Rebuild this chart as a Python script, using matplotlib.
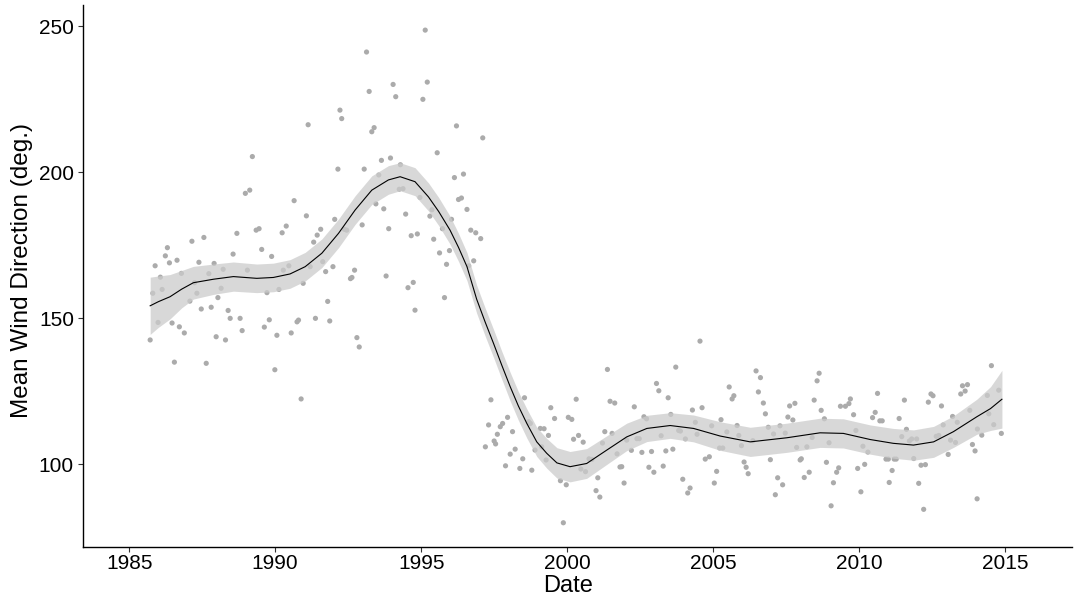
import numpy as np
import matplotlib
matplotlib.use("Agg")
import matplotlib.pyplot as plt

# ---- scatter data: (decimal year, mean wind direction in degrees) ----
point_year = [
    1989.22, 1988.98, 1989.13, 1988.69, 1989.35, 1989.45, 1990.38, 1990.24, 1986.31, 1987.15,
    1987.56, 1986.24, 1985.89, 1986.38, 1986.64, 1987.39, 1987.91, 1988.56, 1989.54, 1989.88,
    1990.47, 1986.79, 1987.73, 1988.22, 1989.05, 1986.07, 1990.28, 1985.81, 1986.13, 1987.24,
    1987.32, 1988.15, 1989.72, 1990.13, 1987.08, 1988.04, 1987.47, 1987.81, 1988.39, 1988.46,
    1988.80, 1985.99, 1986.47, 1986.72, 1986.89, 1985.72, 1987.98, 1988.30, 1988.87, 1989.63,
    1989.80, 1990.06, 1986.55, 1987.64, 1989.99,
    # 1990-1995
    1995.14, 1993.13, 1995.21, 1994.04, 1993.22, 1994.13, 1995.06, 1992.22, 1992.28, 1991.13,
    1993.39, 1993.31, 1993.95, 1993.64, 1994.29, 1992.15, 1993.05, 1993.55, 1994.25, 1994.38,
    1994.96, 1990.65, 1993.45, 1993.72, 1995.37, 1994.47, 1991.07, 1992.04, 1995.30, 1991.56,
    1991.44, 1992.37, 1992.45, 1992.98, 1993.89, 1991.32, 1994.66, 1994.87, 1995.43, 1991.20,
    1991.63, 1991.73, 1991.98, 1992.72, 1993.80, 1992.58, 1992.63, 1994.73, 1994.55, 1990.96,
    1991.80, 1994.79, 1990.75, 1990.80, 1991.38, 1991.87, 1990.55, 1992.80, 1992.88, 1990.89,
    # 1995-1997
    1996.21, 1997.11, 1995.55, 1996.14, 1996.45, 1996.28, 1996.38, 1996.57, 1996.04, 1996.70,
    1996.87, 1997.04, 1995.73, 1995.63, 1995.97, 1995.87, 1996.63, 1996.80, 1995.80,
    # 1997-2000
    1997.39, 1998.54, 1997.31, 1997.71, 1997.79, 1997.96, 1997.61, 1997.50, 1997.55, 1997.20,
    1998.05, 1998.22, 1997.89, 1998.38, 1998.48, 1998.79, 1998.13, 1999.44, 1999.57, 1999.36,
    1999.08, 1999.21, 1999.13, 1998.90, 1999.28, 1998.68, 1998.74, 2000.04, 2000.16, 2000.22,
    1999.77, 1999.97, 1999.87,
    # 2000-2005
    2004.55, 2001.38, 2003.72, 2003.06, 2003.14, 2000.31, 2001.47, 2001.63, 2002.30, 2003.46,
    2004.29, 2004.62, 2005.27, 2002.63, 2002.72, 2003.55, 2004.39, 2004.95, 2001.29, 2001.54,
    2000.39, 2000.55, 2001.21, 2002.04, 2002.39, 2002.47, 2003.22, 2003.82, 2003.88, 2004.05,
    2004.45, 2005.22, 2005.33, 2001.71, 2002.20, 2002.56, 2002.89, 2003.38, 2003.62, 2000.75,
    2000.85, 2004.73, 2004.87, 2000.47, 2000.63, 2001.81, 2001.87, 2002.80, 2002.97, 2003.29,
    2005.12, 2001.05, 2001.95, 2003.96, 2005.04, 2000.99, 2001.12, 2004.21, 2004.13,
    # 2005-2010
    2006.47, 2006.62, 2008.63, 2008.56, 2005.55, 2006.55, 2005.71, 2005.65, 2006.72, 2007.62,
    2007.80, 2008.46, 2009.70, 2009.36, 2009.53, 2009.65, 2006.79, 2007.56, 2008.70, 2009.81,
    2007.73, 2008.81, 2005.82, 2006.89, 2007.29, 2005.47, 2005.88, 2006.36, 2007.07, 2007.47,
    2008.39, 2009.89, 2005.97, 2007.86, 2008.21, 2008.97, 2010.13, 2010.30, 2006.96, 2007.98,
    2008.02, 2008.88, 2006.06, 2006.13, 2006.20, 2008.29, 2008.12, 2009.23, 2009.30, 2009.95,
    2010.19, 2007.21, 2007.38, 2009.12, 2010.06, 2007.13, 2009.04,
    # 2010-2015
    2014.53, 2013.54, 2013.71, 2010.63, 2012.46, 2012.53, 2013.48, 2013.63, 2011.55, 2012.37,
    2012.82, 2014.39, 2014.78, 2010.55, 2010.46, 2010.71, 2010.79, 2011.37, 2013.79, 2014.44,
    2013.20, 2012.88, 2013.36, 2014.61, 2011.62, 2014.05, 2011.46, 2011.72, 2011.80, 2011.97,
    2012.64, 2012.73, 2013.13, 2013.30, 2014.20, 2014.87, 2013.88, 2013.97, 2013.05, 2010.92,
    2011.00, 2011.20, 2011.27, 2011.87, 2012.12, 2012.27, 2011.13, 2011.03, 2012.04, 2014.04,
    2012.21,
]
point_dir = [
    205.3, 192.7, 193.8, 179.0, 180.1, 180.6, 181.5, 179.2, 174.1, 176.3,
    177.6, 171.3, 167.9, 168.9, 169.8, 169.1, 168.7, 171.9, 173.5, 171.1,
    167.9, 165.3, 165.2, 166.7, 166.4, 164.0, 166.4, 158.5, 159.8, 162.1,
    158.5, 160.2, 158.7, 159.8, 155.8, 157.0, 153.1, 153.7, 152.6, 149.9,
    149.9, 148.5, 148.3, 147.0, 144.9, 142.5, 143.6, 142.5, 145.7, 146.9,
    149.4, 144.1, 134.9, 134.5, 132.3,
    248.6, 241.1, 230.8, 230.0, 227.6, 225.8, 224.9, 221.2, 218.3, 216.2,
    215.2, 213.8, 204.8, 204.0, 202.5, 201.0, 201.0, 199.0, 194.1, 194.3,
    191.3, 190.2, 189.1, 187.4, 187.1, 185.6, 185.0, 183.8, 184.9, 180.4,
    178.4, 180.4, 180.1, 181.9, 180.6, 176.0, 178.2, 178.8, 177.0, 167.6,
    169.3, 165.9, 167.6, 166.4, 164.4, 163.5, 163.9, 162.2, 160.4, 161.9,
    155.7, 152.7, 148.7, 149.3, 149.9, 149.0, 144.9, 143.3, 140.1, 122.3,
    215.8, 211.7, 206.6, 198.1, 199.3, 190.6, 191.1, 187.2, 183.8, 180.1,
    179.2, 177.2, 180.6, 172.3, 173.1, 168.4, 167.9, 169.6, 157.0,
    122.0, 122.7, 113.4, 112.8, 113.9, 116.0, 110.2, 107.9, 106.9, 105.9,
    103.4, 105.1, 99.4, 98.5, 101.8, 97.9, 111.1, 119.3, 115.6, 109.8,
    112.2, 112.1, 105.9, 104.8, 101.4, 114.5, 113.9, 116.0, 115.3, 108.5,
    94.3, 92.9, 79.9,
    142.1, 132.4, 133.2, 127.6, 125.1, 122.2, 121.5, 120.9, 119.6, 122.7,
    118.5, 119.3, 115.2, 116.2, 115.5, 117.0, 114.3, 113.1, 111.1, 110.5,
    109.8, 107.5, 107.2, 108.2, 108.7, 108.7, 109.7, 111.5, 111.3, 108.6,
    110.2, 105.5, 105.5, 103.5, 104.7, 104.0, 104.3, 104.5, 105.1, 101.8,
    101.6, 101.7, 102.5, 98.3, 97.4, 99.0, 99.1, 98.9, 97.2, 99.3,
    97.5, 95.3, 93.5, 94.8, 93.5, 90.9, 88.7, 91.8, 90.1,
    131.9, 129.6, 131.1, 128.5, 126.4, 124.7, 123.4, 122.3, 120.9, 119.9,
    120.8, 121.9, 122.3, 119.8, 119.8, 120.7, 117.2, 116.1, 118.4, 116.9,
    115.1, 115.5, 113.2, 112.6, 113.1, 111.0, 109.8, 108.0, 110.3, 110.6,
    109.1, 111.5, 106.3, 105.7, 105.9, 107.3, 106.1, 104.1, 101.5, 101.4,
    101.8, 100.6, 100.7, 98.9, 96.7, 97.2, 95.4, 97.2, 98.7, 98.5,
    99.9, 95.3, 92.9, 93.6, 90.5, 89.5, 85.7,
    133.7, 126.8, 127.2, 124.2, 124.0, 123.4, 124.0, 125.0, 121.9, 121.2,
    119.9, 123.5, 125.3, 117.7, 115.9, 114.8, 114.8, 115.6, 118.4, 117.2,
    116.3, 113.4, 114.3, 113.5, 111.9, 112.0, 109.4, 107.9, 108.6, 108.6,
    109.5, 109.8, 108.2, 107.4, 109.9, 110.5, 106.7, 104.5, 103.3, 101.7,
    101.7, 101.7, 101.7, 101.9, 99.6, 99.8, 97.8, 93.7, 93.4, 88.1,
    84.5,
]

# ---- smooth fit ----
smooth_year = [
    1985.72, 1986.00, 1986.40, 1986.80, 1987.20, 1987.89, 1988.57, 1989.37, 1989.94, 1990.51,
    1991.03, 1991.60, 1992.17, 1992.74, 1993.31, 1993.88, 1994.28, 1994.79, 1995.25, 1995.60,
    1995.99, 1996.28, 1996.57, 1996.90, 1997.19, 1997.48, 1997.76, 1998.05, 1998.33, 1998.62,
    1998.96, 1999.30, 1999.65, 2000.10, 2000.67, 2001.36, 2002.04, 2002.73, 2003.53, 2004.33,
    2005.24, 2006.27, 2007.52, 2008.66, 2009.46, 2010.38, 2011.17, 2011.86, 2012.55, 2013.23,
    2014.03, 2014.50, 2014.89,
]
smooth_dir = [
    154.2, 155.6, 157.3, 159.9, 162.1, 163.3, 164.2, 163.6, 163.9, 165.1,
    167.6, 172.2, 179.0, 187.0, 193.8, 197.3, 198.4, 196.7, 191.5, 186.5,
    180.1, 174.2, 167.6, 156.5, 148.7, 141.3, 133.9, 126.5, 119.9, 113.9,
    107.6, 103.7, 100.4, 99.1, 100.2, 104.8, 109.3, 112.2, 113.2, 112.2,
    109.6, 107.6, 109.0, 110.7, 110.5, 108.4, 107.1, 106.5, 107.6, 111.1,
    116.2, 119.0, 122.2,
]
smooth_halfwidth = [
    9.8, 8.8, 7.6, 6.4, 5.6, 5.2, 5.0, 4.9, 4.9, 4.9,
    4.9, 4.9, 4.9, 4.9, 4.9, 4.9, 4.8, 4.8, 4.8, 4.8,
    4.8, 4.8, 4.8, 4.8, 4.8, 4.8, 4.8, 4.9, 4.9, 5.0,
    5.0, 5.1, 5.2, 5.2, 5.1, 4.9, 4.7, 4.5, 4.4, 4.6,
    4.9, 5.0, 5.0, 5.0, 5.0, 5.0, 5.1, 5.2, 5.3, 5.4,
    6.0, 7.5, 9.9,
]

x_ticks = [1985, 1990, 1995, 2000, 2005, 2010, 2015]
y_ticks = [100, 150, 200, 250]

W, H = 1074, 601
fig = plt.figure(figsize=(W / 100, H / 100), dpi=100)
fig.patch.set_facecolor("white")
ax = fig.add_axes([83 / W, (H - 547) / H, (1072 - 83) / W, (547 - 5) / H])

sy = np.array(smooth_year)
sd = np.array(smooth_dir)
hw = np.array(smooth_halfwidth)

ax.scatter(point_year, point_dir, s=14, color="#ababab", edgecolors="none", zorder=2)
ax.fill_between(sy, sd - hw, sd + hw, color="#cccccc", alpha=0.75, linewidth=0, zorder=3)
ax.plot(sy, sd, color="black", linewidth=0.8, zorder=4)

ax.set_xlim(1983.42, 2017.29)
ax.set_ylim(71.6, 257.2)
ax.set_xticks(x_ticks)
ax.set_yticks(y_ticks)

font = ["Liberation Sans", "DejaVu Sans"]
for s in ["top", "right"]:
    ax.spines[s].set_visible(False)
for s in ["left", "bottom"]:
    ax.spines[s].set_color("black")
    ax.spines[s].set_linewidth(1.0)

ax.tick_params(axis="both", direction="out", length=3.5, width=0.8, color="#333333",
               labelsize=15, labelcolor="black")
ax.tick_params(axis="x", pad=1.5)
ax.tick_params(axis="y", pad=3)
for lab in ax.get_xticklabels() + ax.get_yticklabels():
    lab.set_fontfamily(font)

fig.text(568 / W, 1 - 586 / H, "Date", ha="center", va="center", fontsize=17, family=font)
fig.text(22 / W, 1 - 270 / H, "Mean Wind Direction (deg.)", ha="center", va="center",
         rotation=90, fontsize=17.5, family=font)

fig.savefig("out.png", dpi=100)
